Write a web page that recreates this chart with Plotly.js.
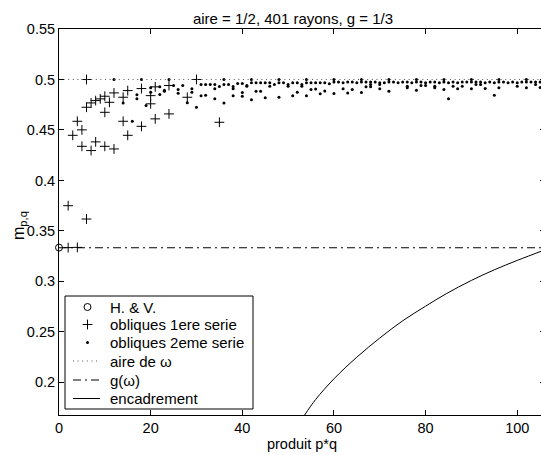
<!DOCTYPE html>
<html>
<head>
<meta charset="utf-8">
<script src="https://cdn.plot.ly/plotly-3.0.1.min.js"></script>
<style>
html,body{margin:0;padding:0;overflow:hidden;background:#fff;}
#chart{width:545px;height:455px;}
</style>
</head>
<body>
<div id="chart"></div>
<script>
// ---- data ----
const hvX = [0];
const hvY = [0.3335];

const s1X = [2, 2, 3, 4, 4, 5, 5, 6, 6, 6, 7, 7, 8, 8, 9, 10, 10, 10, 11, 12, 12, 14, 14, 15, 15, 18, 18, 20, 20, 21, 21, 24, 24, 28, 30, 35];
const s1Y = [0.3335, 0.375, 0.4447, 0.3337, 0.4586, 0.4501, 0.4338, 0.5, 0.4725, 0.3618, 0.4296, 0.4768, 0.4382, 0.4791, 0.4808, 0.4834, 0.4675, 0.4338, 0.4774, 0.4867, 0.4312, 0.4824, 0.4586, 0.489, 0.4447, 0.491, 0.4536, 0.484, 0.4759, 0.4927, 0.461, 0.494, 0.4659, 0.4824, 0.5, 0.4576];

const s2X = [12, 14, 16, 17, 17, 18, 19, 20, 20, 22, 22, 23, 23, 24, 25, 26, 26, 27, 28, 29, 29, 30, 31, 31, 32, 32, 33, 34, 34, 34, 35, 36, 36, 36, 37, 38, 38, 38, 39, 40, 40, 40, 41, 41, 42, 42, 42, 43, 43, 44, 44, 45, 45, 46, 46, 47, 48, 48, 48, 49, 50, 50, 51, 51, 52, 52, 53, 53, 54, 54, 54, 55, 55, 56, 56, 57, 57, 58, 58, 59, 60, 60, 60, 61, 62, 62, 63, 63, 64, 64, 65, 66, 66, 66, 67, 67, 68, 68, 68, 69, 70, 70, 70, 71, 72, 72, 72, 73, 74, 75, 76, 76, 76, 77, 78, 78, 78, 79, 79, 80, 80, 81, 82, 82, 82, 83, 84, 84, 84, 85, 85, 86, 86, 87, 87, 88, 88, 89, 90, 90, 90, 91, 91, 92, 92, 93, 93, 94, 95, 95, 96, 96, 96, 97, 98, 99, 100, 100, 101, 102, 102, 102, 103, 104, 104, 105, 105];
const s2Y = [0.5, 0.4768, 0.4586, 0.485, 0.4808, 0.5, 0.4742, 0.4917, 0.4874, 0.4927, 0.4852, 0.4893, 0.4883, 0.5, 0.494, 0.49, 0.4863, 0.494, 0.477, 0.4907, 0.4874, 0.4725, 0.495, 0.484, 0.495, 0.4845, 0.495, 0.495, 0.4907, 0.4808, 0.493, 0.5, 0.495, 0.4768, 0.495, 0.493, 0.4907, 0.484, 0.496, 0.496, 0.487, 0.4834, 0.494, 0.4933, 0.5, 0.4967, 0.48, 0.4967, 0.4883, 0.4967, 0.4883, 0.4967, 0.4818, 0.4967, 0.4933, 0.495, 0.5, 0.4967, 0.4824, 0.4967, 0.495, 0.4933, 0.4967, 0.484, 0.4967, 0.4874, 0.495, 0.4933, 0.5, 0.4967, 0.484, 0.4967, 0.49, 0.4967, 0.4905, 0.4967, 0.4858, 0.4967, 0.4887, 0.4958, 0.5, 0.4975, 0.4861, 0.4975, 0.4967, 0.4907, 0.4975, 0.4867, 0.4975, 0.49, 0.4967, 0.5, 0.4975, 0.487, 0.4975, 0.4927, 0.4975, 0.495, 0.4927, 0.4975, 0.4967, 0.495, 0.4907, 0.4967, 0.5, 0.4975, 0.4883, 0.4975, 0.4967, 0.4975, 0.4975, 0.4933, 0.4917, 0.4967, 0.5, 0.4975, 0.4893, 0.4975, 0.494, 0.4967, 0.494, 0.4975, 0.4975, 0.4933, 0.4917, 0.4967, 0.5, 0.4975, 0.49, 0.4967, 0.4808, 0.4975, 0.4933, 0.4967, 0.4907, 0.4975, 0.4933, 0.4975, 0.5, 0.4975, 0.4907, 0.4975, 0.495, 0.4975, 0.495, 0.4967, 0.491, 0.4975, 0.4967, 0.4844, 0.5, 0.4975, 0.4917, 0.4975, 0.4967, 0.4975, 0.4967, 0.4933, 0.4975, 0.5, 0.4975, 0.4917, 0.4975, 0.4975, 0.495, 0.4975, 0.492];

const aireValue = 0.5;       // aire de omega
const gValue = 1 / 3;        // g(omega)

const encX = [53.6, 56, 60, 65, 70, 75, 80, 84.5, 90, 95, 100, 106];
const encY = [0.1677, 0.183, 0.2035, 0.225, 0.2439, 0.261, 0.2755, 0.2878, 0.301, 0.3115, 0.3208, 0.3312];

const seriesNames = ['H. & V.', 'obliques 1ere serie', 'obliques 2eme serie', 'aire de ω', 'g(ω)', 'encadrement'];

const xTicks = [0, 20, 40, 60, 80, 100];
const yTicks = [0.2, 0.25, 0.3, 0.35, 0.4, 0.45, 0.5, 0.55];
const yTickLabels = ['0.2', '0.25', '0.3', '0.35', '0.4', '0.45', '0.5', '0.55'];

const xRange = [0, 106.06];
const yRange = [0.1677, 0.55];

// ---- styles ----
const FONT = 'Liberation Sans, Arial, Helvetica, sans-serif';
const styles = [
  {mode: 'markers', marker: {symbol: 'circle-open', size: 7, color: 'black', line: {width: 1, color: 'black'}}},
  {mode: 'markers', marker: {symbol: 'cross-thin', size: 7, color: 'black', line: {width: 1, color: 'black'}}},
  {mode: 'markers', marker: {symbol: 'circle', size: 3, color: 'black'}},
  {mode: 'lines', line: {color: '#555', width: 1, dash: '1px,3.6px'}},
  {mode: 'lines', line: {color: 'black', width: 1, dash: '8px,4px,2px,4px'}},
  {mode: 'lines', line: {color: 'black', width: 1, shape: 'spline'}}
];

const dataXY = [
  [hvX, hvY], [s1X, s1Y], [s2X, s2Y],
  [xRange, [aireValue, aireValue]], [xRange, [gValue, gValue]], [encX, encY]
];

const traces = dataXY.map((d, i) => Object.assign({
  x: d[0], y: d[1], name: seriesNames[i], showlegend: false, cliponaxis: i < 3 ? false : true
}, JSON.parse(JSON.stringify(styles[i]))));

// ---- hand-made legend box (pixel frame on an overlay axis pair) ----
const PLOT_L = 59, PLOT_R = 545, PLOT_T = 29, PLOT_B = 415;
const LEG = {left: 65, right: 253, top: 296, bottom: 409, symL: 73, symR: 100, symC: 87.5, textX: 108,
             rows: [307, 324.5, 342.5, 361, 380, 398.5]};

seriesNames.forEach((nm, i) => {
  const st = JSON.parse(JSON.stringify(styles[i]));
  const isLine = st.mode === 'lines';
  if (isLine && st.line) delete st.line.shape;
  traces.push(Object.assign({
    x: isLine ? [LEG.symL, LEG.symR] : [LEG.symC],
    y: isLine ? [LEG.rows[i], LEG.rows[i]] : [LEG.rows[i]],
    xaxis: 'x2', yaxis: 'y2', showlegend: false, hoverinfo: 'skip', cliponaxis: false
  }, st));
});

const annotations = seriesNames.map((nm, i) => ({
  xref: 'x2', yref: 'y2', x: LEG.textX, y: LEG.rows[i], xanchor: 'left', yanchor: 'middle',
  text: nm, showarrow: false, font: {family: FONT, size: 15, color: 'black'}
}));
// y-axis label
annotations.push({
  xref: 'paper', yref: 'paper', x: (19 - PLOT_L) / (PLOT_R - PLOT_L), y: (PLOT_B - 226) / (PLOT_B - PLOT_T),
  xanchor: 'center', yanchor: 'middle', textangle: -90, showarrow: false,
  text: 'm<sub>p,q</sub>', font: {family: FONT, size: 16, color: 'black'}
});

const axisCommon = {
  showgrid: false, zeroline: false, showline: true, linecolor: 'black', linewidth: 1,
  ticks: 'inside', ticklen: 5, tickcolor: 'black', mirror: 'ticks',
  tickfont: {family: FONT, size: 14.5, color: 'black'}
};

const layout = {
  width: 545, height: 455,
  margin: {l: PLOT_L, r: 545 - PLOT_R, t: PLOT_T, b: 455 - PLOT_B},
  paper_bgcolor: 'white', plot_bgcolor: 'white',
  font: {family: FONT, size: 14, color: 'black'},
  title: {text: 'aire = 1/2, 401 rayons, g = 1/3', font: {family: FONT, size: 15, color: 'black'},
          xref: 'container', x: 293 / 545, xanchor: 'center', yref: 'container', y: 1 - 19 / 455, yanchor: 'middle'},
  xaxis: Object.assign({}, axisCommon, {range: xRange, tickmode: 'array', tickvals: xTicks,
          title: {text: 'produit p*q', font: {family: FONT, size: 14.5, color: 'black'}, standoff: 2}}),
  yaxis: Object.assign({}, axisCommon, {range: yRange, tickmode: 'array', tickvals: yTicks, ticktext: yTickLabels}),
  xaxis2: {overlaying: 'x', anchor: 'y2', range: [PLOT_L, PLOT_R], visible: false, fixedrange: true},
  yaxis2: {overlaying: 'y', anchor: 'x2', range: [PLOT_B, PLOT_T], visible: false, fixedrange: true},
  shapes: [{type: 'rect', xref: 'x2', yref: 'y2', x0: LEG.left, x1: LEG.right, y0: LEG.top, y1: LEG.bottom,
            line: {color: 'black', width: 1}, fillcolor: 'rgba(0,0,0,0)', layer: 'above'}],
  annotations: annotations,
  showlegend: false
};

Plotly.newPlot('chart', traces, layout, {displayModeBar: false, staticPlot: true});
</script>
</body>
</html>
